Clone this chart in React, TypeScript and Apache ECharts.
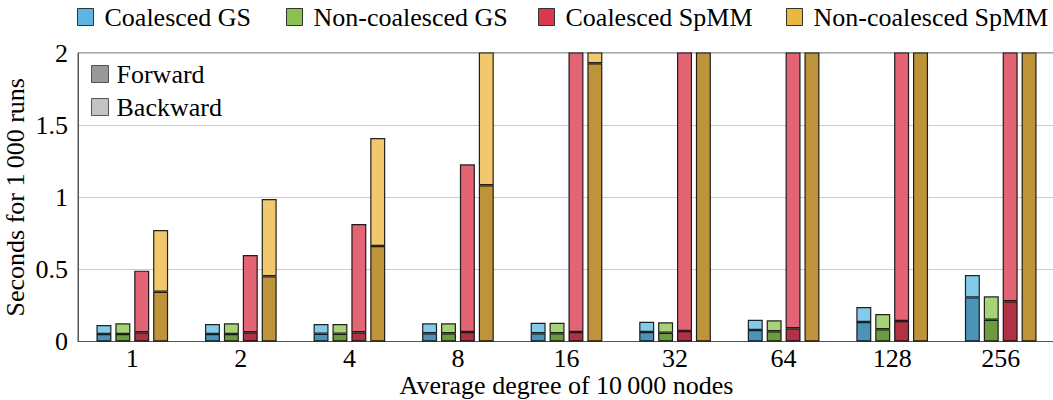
import React, { useEffect, useRef } from 'react';
import * as echarts from 'echarts';

const categories = ['1', '2', '4', '8', '16', '32', '64', '128', '256'];
const yTicks = [0, 0.5, 1, 1.5, 2];

// forward time and total (forward + backward) time, seconds for 1000 runs
const coalescedGSForward = [0.052, 0.052, 0.054, 0.057, 0.057, 0.066, 0.08, 0.135, 0.306];
const coalescedGSTotal = [0.114, 0.121, 0.121, 0.126, 0.13, 0.137, 0.151, 0.239, 0.461];
const nonCoalescedGSForward = [0.052, 0.052, 0.054, 0.057, 0.057, 0.061, 0.071, 0.085, 0.151];
const nonCoalescedGSTotal = [0.126, 0.126, 0.121, 0.126, 0.13, 0.133, 0.147, 0.191, 0.313];
const coalescedSpMMForward = [0.064, 0.064, 0.064, 0.066, 0.066, 0.073, 0.092, 0.142, 0.279];
const coalescedSpMMTotal = [0.491, 0.6, 0.815, 1.228, 2.6, 3.6, 5.4, 9.5, 18];
const nonCoalescedSpMMForward = [0.345, 0.452, 0.662, 1.083, 1.929, 3.5, 6.8, 13, 26];
const nonCoalescedSpMMTotal = [0.773, 0.988, 1.41, 2.3, 2.6, 4.6, 9, 17, 34];

const FONT = 'Times New Roman';

function pair(name: string, stack: string, fwd: number[], tot: number[], fc: string, bc: string) {
  const base = {
    type: 'bar',
    name,
    stack,
    barWidth: 15,
    barGap: '26%',
    clip: true,
  };
  return [
    {
      ...base,
      data: fwd,
      itemStyle: { color: fc, borderColor: 'rgba(0,0,0,0.85)', borderWidth: 1.2 },
    },
    {
      ...base,
      data: tot.map((t, i) => +(t - fwd[i]).toFixed(4)),
      itemStyle: { color: bc, borderColor: 'rgba(0,0,0,0.85)', borderWidth: 1.2 },
    },
  ];
}

function legendItem(left: number, name: string, color: string) {
  return {
    left,
    top: 4,
    padding: 0,
    itemWidth: 16,
    itemHeight: 17,
    selectedMode: false,
    data: [{ name, icon: 'rect', itemStyle: { color, borderColor: '#333', borderWidth: 1 } }],
    textStyle: { fontFamily: FONT, fontSize: 26, color: '#000', padding: [0, 0, 0, 6], lineHeight: 26 },
  };
}

export default function App() {
  const ref = useRef<HTMLDivElement>(null);
  useEffect(() => {
    if (!ref.current) return;
    const chart = echarts.init(ref.current, undefined, { renderer: 'svg' });
    const option = {
      animation: false,
      backgroundColor: '#fff',
      textStyle: { fontFamily: FONT },
      grid: {
        left: 78,
        right: -2,
        top: 53,
        bottom: 58.5,
        show: true,
        borderColor: '#555',
        borderWidth: 1,
        containLabel: false,
        outerBoundsMode: 'none',
      },
      legend: [
        legendItem(77, 'Coalesced GS', '#5bb6e3'),
        legendItem(286, 'Non-coalesced GS', '#8cc151'),
        legendItem(538, 'Coalesced SpMM', '#d9384f'),
        legendItem(786, 'Non-coalesced SpMM', '#ecb740'),
        {
          left: 91,
          top: 61,
          padding: 0,
          orient: 'vertical',
          itemWidth: 17,
          itemHeight: 17,
          itemGap: 7,
          selectedMode: false,
          data: [
            { name: 'Forward', icon: 'rect', itemStyle: { color: '#808080', borderColor: '#333', borderWidth: 1 } },
            { name: 'Backward', icon: 'rect', itemStyle: { color: '#b4b4b4', borderColor: '#333', borderWidth: 1 } },
          ],
          textStyle: { fontFamily: FONT, fontSize: 26, color: '#000', padding: [0, 0, 0, 3], lineHeight: 26 },
        },
      ],
      xAxis: {
        type: 'category',
        data: categories,
        axisTick: { show: false },
        axisLine: { lineStyle: { color: '#555', width: 1 } },
        axisLabel: { fontFamily: FONT, fontSize: 26, color: '#000', margin: 4 },
        name: 'Average degree of 10\u2009000 nodes',
        nameLocation: 'middle',
        nameMoveOverlap: false,
        nameGap: 31,
        nameTextStyle: { fontFamily: FONT, fontSize: 26, color: '#000', lineHeight: 26 },
      },
      yAxis: {
        type: 'value',
        min: yTicks[0],
        max: yTicks[yTicks.length - 1],
        interval: 0.5,
        axisTick: { show: false },
        axisLine: { show: true, lineStyle: { color: '#555', width: 1 } },
        axisLabel: { fontFamily: FONT, fontSize: 26, color: '#000', margin: 10 },
        splitLine: { lineStyle: { color: '#cccccc', width: 1 } },
        name: 'Seconds for 1\u2009000 runs',
        nameLocation: 'middle',
        nameMoveOverlap: false,
        nameGap: 50,
        nameTextStyle: { fontFamily: FONT, fontSize: 26, color: '#000', lineHeight: 26 },
      },
      series: [
        ...pair('Coalesced GS', 'cgs', coalescedGSForward, coalescedGSTotal, '#4b94b6', '#84caeb'),
        ...pair('Non-coalesced GS', 'ngs', nonCoalescedGSForward, nonCoalescedGSTotal, '#6e9b40', '#a8d276'),
        ...pair('Coalesced SpMM', 'csp', coalescedSpMMForward, coalescedSpMMTotal, '#b03244', '#e36575'),
        ...pair('Non-coalesced SpMM', 'nsp', nonCoalescedSpMMForward, nonCoalescedSpMMTotal, '#bd943a', '#f1c86e'),
        { type: 'scatter', name: 'Forward', data: [] },
        { type: 'scatter', name: 'Backward', data: [] },
      ],
    };
    chart.setOption(option as any);
    return () => chart.dispose();
  }, []);
  return (
    <div
      ref={ref}
      style={{ position: 'fixed', left: 0, top: 0, width: 1053, height: 400 }}
    />
  );
}
